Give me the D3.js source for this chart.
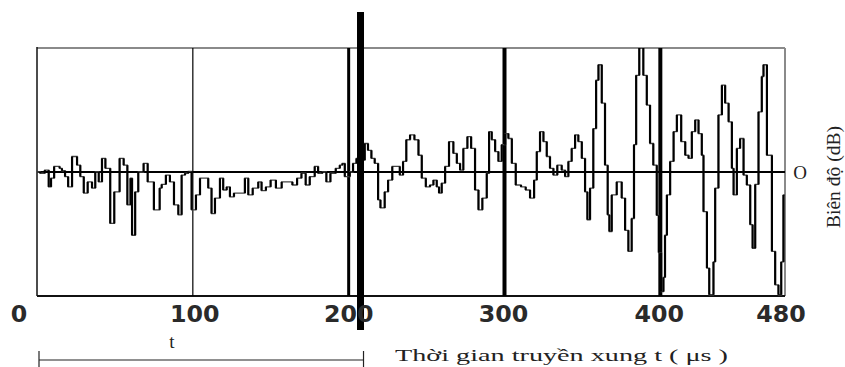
<!DOCTYPE html>
<html>
<head>
<meta charset="utf-8">
<script src="https://cdn.jsdelivr.net/npm/d3@7"></script>
<style>
  html, body { margin: 0; padding: 0; background: #fff; }
  svg { display: block; }
</style>
</head>
<body>
<svg id="chart" width="845" height="367"></svg>
<script>
// echo trace, [time µs, amplitude dB]
const signal = [
  [0, 0], [2, -0.2], [5, 0.3], [7.5, -2.4], [9, -1], [11, 0.9], [14.5, 0.6], [16, 0.2],
  [18, -0.75], [20, -2.4], [22.5, 2.5], [25.7, 1.1], [27.8, -0.75], [30, -3.4], [32.5, -1.6],
  [35.3, -2.6], [37.4, 0], [39.6, -1.6], [41.7, 2.2], [43.9, 0.6], [47, -8.3], [49.6, -3.2],
  [53, 2.2], [55.6, 1.1], [58, -5.3], [60, -1], [61, -10.2], [63, -3.2], [65, 0], [68.4, 1.4],
  [71, -1.6], [75, -6.1], [78.7, -2.6],
  [80, -2], [82.7, -0.5], [85.3, -1.6], [87.9, -5.3], [90.7, -6.9], [92.8, -0.5], [95, -0.2],
  [97.1, 0.1], [99.2, -6.1], [102, -3.7], [104.6, -1], [106.7, -1], [109.9, -2.6], [112, -6.7],
  [114.2, -4.2], [117.4, -1], [119.5, -2.9], [121.7, -2.4], [123.8, -4], [126.4, -3.4],
  [130.2, -3.4], [133.4, -1], [135.6, -3.7], [138.4, -2.6], [142, -1.6], [144.1, -3],
  [146.9, -2.4], [149.9, -1.3], [153.3, -2.6], [157, -1.6],
  [160, -1.6], [163.9, -2.1], [166.9, -1], [169.7, -0.2], [172.4, -2.1], [175, -0.75],
  [178.2, 0.9], [180.4, -0.2], [183.1, 0], [185.7, -1.6], [188.3, -0.2], [191.7, 0.6],
  [194.3, 1.1], [196, 1.4], [197.5, -0.75], [200.7, 0], [202.8, 1.4], [205, 2.2], [207.1, 1.9],
  [210.3, 4.6], [212.4, 3.5], [214.6, 2.2], [216.7, 1.4], [218.9, -4.5], [220.4, -5.8],
  [223.1, -3.2], [225.3, -1.3], [228, 0.9], [230.6, 0.9], [232.8, -0.5], [234.9, 1.7], [237, 5.2],
  [239.4, 6], [242.2, 5.2], [244.8, 2.7], [246.9, -1], [249.5, -2.4], [252.2, -2.1],
  [254.4, -1.3], [256.5, -2.4], [258, -3.4], [259.7, -1.8], [261.9, 0.9], [264.4, 4.9],
  [267.2, 3], [269.4, 1.4], [271.5, 0.3], [273.6, 3.8], [276.2, 5.7], [278.6, 3.8],
  [281.1, -2.9], [283.3, -6.1], [285.8, -4.2], [288.6, -0.2], [290.1, 6.5], [291.8, 5.2],
  [294, 3.3], [296.1, 1.7], [298.2, 4.4], [300.4, 6.2], [302.5, 5.4], [304.7, 1.4],
  [307.2, -2.1], [310.6, -2.4], [313.6, -2.9], [316.4, -4.2], [319, -1.3],
  [320.7, 3.3], [322.8, 6.5], [325, 4.9], [327.1, 2.5], [329.2, 0.6], [331.4, -0.5],
  [333.9, 1.1], [336.7, 0.3], [338.9, -0.75], [341, 1.7], [343.1, 3.8], [345.3, 6],
  [347.4, 4.9], [349.6, 2.2], [351.7, -3.2], [353.2, -7.7], [354.9, -2.6], [357, 7],
  [358.8, 14.8], [360.3, 17.3], [362.4, 11.1], [364.5, 1.1], [366.2, -6.9], [367.3, -9.6],
  [368.8, -3.7], [372, -1.6], [375.2, -4.2], [377.4, -9.4], [379.5, -12.8], [381.6, -7.5],
  [383.1, 4.4], [384.5, 15.6], [386.5, 20], [389.1, 15.6], [391.3, 10.8], [393.4, 4.6],
  [395.5, 1.1], [397.7, -7],
  [399, -13], [400.5, -19.3], [402, -17], [403, -10.2], [404.2, -3.7], [406.3, 1.7],
  [408.5, 6.5], [410.6, 9.2], [413.4, 4.9], [416, 2.7], [418.1, 2.2], [420.2, 6.5],
  [422.4, 8.4], [424.5, 6.2], [426.6, 2.7], [427.7, -6.4], [429.9, -15.5], [431.4, -19.8],
  [434.1, -14.5], [435.2, -2.6], [437.3, 9.2], [439.5, 14], [441.6, 11.1], [443.8, 8.1],
  [445.9, 0.6], [447, -3.7], [449.1, 3.8], [451.2, 5.4], [453.4, -0.5], [455.5, -2.1],
  [457.7, -8.5], [459.2, -12.3], [460.9, -2], [463, 9.7], [465.1, 15.4], [466.2, 17.3],
  [468.4, 2.7], [471.6, -12.8], [473.7, -18.2], [475.8, -19.8], [477.6, -14.5], [479, -3.7],
  [480, -3.7]
];

const xTicks = [0, 100, 200, 300, 400, 480];
const gridTimes = [100, 200, 300, 400];
const pulseTime = 207.6;
const xTitle = 'Thời gian truyền xung t ( μs )';
const yTitle = 'Biên độ (dB)';

const svg = d3.select('#chart');
const m = {left: 37, right: 785, top: 48, bottom: 296};

const x = d3.scaleLinear().domain([0, 480]).range([m.left, m.right]);
const y = d3.scaleLinear().domain([-20, 20]).range([m.bottom, m.top]);

svg.append('defs').append('clipPath').attr('id', 'plot-clip')
  .append('rect').attr('x', m.left).attr('y', m.top)
  .attr('width', m.right - m.left).attr('height', m.bottom - m.top);

// frame: top and right grey, left and bottom black
svg.append('line').attr('x1', m.left).attr('x2', m.right).attr('y1', m.top).attr('y2', m.top)
  .attr('stroke', '#8a8a8a').attr('stroke-width', 2);
svg.append('line').attr('x1', m.right).attr('x2', m.right).attr('y1', m.top).attr('y2', m.bottom)
  .attr('stroke', '#8a8a8a').attr('stroke-width', 2);
svg.append('line').attr('x1', m.left).attr('x2', m.left).attr('y1', m.top - 1).attr('y2', m.bottom)
  .attr('stroke', '#111').attr('stroke-width', 1.5);
svg.append('line').attr('x1', m.left).attr('x2', m.right).attr('y1', m.bottom).attr('y2', m.bottom)
  .attr('stroke', '#111').attr('stroke-width', 2);

// vertical grid lines
const gridWidth = {100: 1.2, 200: 3, 300: 4, 400: 4};
svg.append('g').selectAll('line').data(gridTimes).join('line')
  .attr('x1', d => x(d)).attr('x2', d => x(d))
  .attr('y1', m.top).attr('y2', m.bottom)
  .attr('stroke', '#000').attr('stroke-width', d => gridWidth[d]);

// zero line
svg.append('line').attr('x1', m.left).attr('x2', m.right).attr('y1', y(0)).attr('y2', y(0))
  .attr('stroke', '#000').attr('stroke-width', 2);

// trace: thin horizontal steps, heavier verticals
const plot = svg.append('g').attr('clip-path', 'url(#plot-clip)');
const line = d3.line().x(d => x(d[0])).y(d => y(d[1])).curve(d3.curveStepAfter);
plot.append('path').datum(signal).attr('d', line)
  .attr('fill', 'none').attr('stroke', '#444').attr('stroke-width', 1.3);
const risers = d3.pairs(signal);
plot.append('g').selectAll('line').data(risers).join('line')
  .attr('x1', d => x(d[1][0])).attr('x2', d => x(d[1][0]))
  .attr('y1', d => y(d[0][1])).attr('y2', d => y(d[1][1]))
  .attr('stroke', '#000').attr('stroke-width', 2.2);

// transmitted pulse bar
svg.append('line').attr('x1', x(pulseTime)).attr('x2', x(pulseTime))
  .attr('y1', 12).attr('y2', 330)
  .attr('stroke', '#000').attr('stroke-width', 7);

// tick labels
const tickShift = {0: -18, 100: 2, 200: 0, 300: -1, 400: -1, 480: -4};
svg.append('g').selectAll('text').data(xTicks).join('text')
  .attr('x', d => x(d) + tickShift[d]).attr('y', 322)
  .attr('text-anchor', 'middle')
  .attr('font-family', 'DejaVu Sans, sans-serif').attr('font-size', 23)
  .attr('font-weight', 'bold').attr('fill', '#2a2a2a')
  .attr('textLength', d => String(d).length * 16.5).attr('lengthAdjust', 'spacingAndGlyphs')
  .text(d => d);

// bracket showing t
const bx0 = x(0) + 2, bx1 = x(pulseTime) + 3;
const bracket = svg.append('g').attr('stroke', '#222').attr('stroke-width', 1.2);
bracket.append('line').attr('x1', bx0).attr('x2', bx1).attr('y1', 360).attr('y2', 360);
bracket.append('line').attr('x1', bx0).attr('x2', bx0).attr('y1', 351).attr('y2', 367);
bracket.append('line').attr('x1', bx1).attr('x2', bx1).attr('y1', 351).attr('y2', 367);
svg.append('text').attr('x', 172).attr('y', 348).attr('text-anchor', 'middle')
  .attr('font-family', 'Liberation Serif, serif').attr('font-size', 19).attr('fill', '#222')
  .text('t');

// axis titles
svg.append('text').attr('x', 395).attr('y', 361)
  .attr('font-family', 'Liberation Serif, serif').attr('font-size', 17).attr('fill', '#222')
  .attr('textLength', 333).attr('lengthAdjust', 'spacingAndGlyphs')
  .text(xTitle);

svg.append('text').attr('x', 800).attr('y', y(0) + 6.5).attr('text-anchor', 'middle')
  .attr('font-family', 'Liberation Serif, serif').attr('font-size', 19).attr('fill', '#222')
  .text('O');

svg.append('text')
  .attr('transform', 'translate(840, 177) rotate(-90)')
  .attr('text-anchor', 'middle')
  .attr('font-family', 'Liberation Serif, serif').attr('font-size', 18).attr('fill', '#222')
  .attr('textLength', 102).attr('lengthAdjust', 'spacingAndGlyphs')
  .text(yTitle);
</script>
</body>
</html>
